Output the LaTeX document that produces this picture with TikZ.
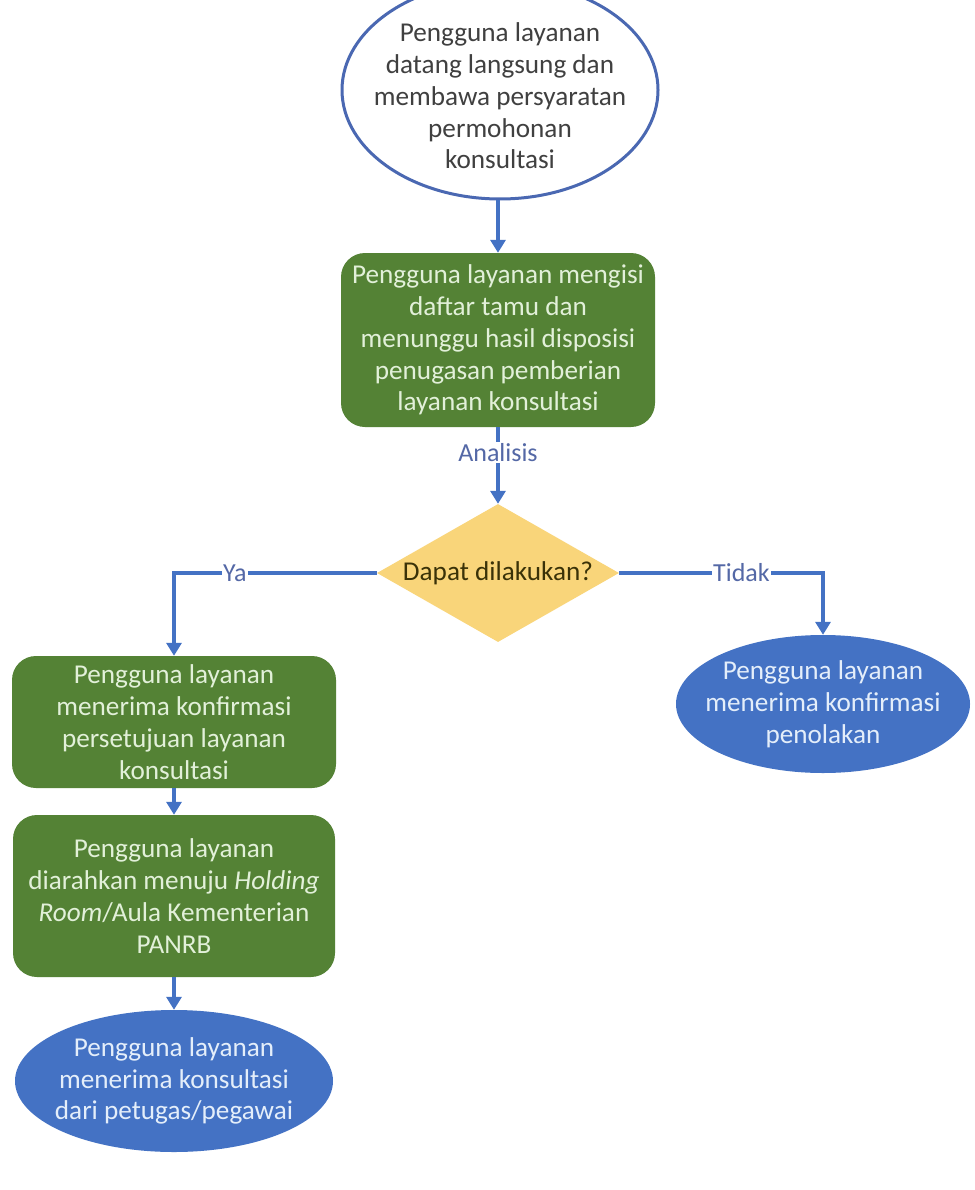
\documentclass[tikz,border=0pt]{standalone}
\usepackage{fontspec}
\setmainfont{Carlito}
\usetikzlibrary{shapes.geometric,arrows.meta}
\definecolor{lineblue}{HTML}{4472C4}
\definecolor{edgeblue}{HTML}{4A68B2}
\definecolor{boxgreen}{HTML}{548235}
\definecolor{greentext}{HTML}{E2F0D9}
\definecolor{diafill}{HTML}{F9D57A}
\definecolor{diatext}{HTML}{3A3208}
\definecolor{ovalblue}{HTML}{4472C4}
\definecolor{ovaltext}{HTML}{E4EEFA}
\definecolor{lbltext}{HTML}{5468A6}
\definecolor{darktext}{HTML}{404040}
\tikzset{
  txt/.style={font=\fontsize{27.2}{31.8}\selectfont, align=center, inner sep=0pt},
  startoval/.style={ellipse, draw=edgeblue, line width=3pt, fill=white, inner sep=0pt},
  greenbox/.style={txt, rectangle, rounded corners=24pt, fill=boxgreen, text=greentext},
  endoval/.style={ellipse, fill=ovalblue, inner sep=0pt},
  decision/.style={diamond, fill=diafill, inner sep=0pt},
  conn/.style={draw=lineblue, line width=3.2pt},
  arr/.style={conn, -{Triangle[length=13pt,width=15pt]}},
  lbl/.style={font=\fontsize{26}{30}\selectfont, text=lbltext, fill=white, inner sep=1.5pt}
}
\begin{document}
\begin{tikzpicture}[x=1pt,y=-1pt]
\useasboundingbox (0,0) rectangle (974,1190);
\fill[white] (0,0) rectangle (974,1190);

\node[startoval, minimum width=316pt, minimum height=218pt] (start) at (500,90) {};
\node[txt, text=darktext] (starttext) at (500,96)
  {Pengguna layanan\\datang langsung dan\\membawa persyaratan\\permohonan\\konsultasi};

\node[greenbox, minimum width=314pt, minimum height=174pt] (g1) at (498,340)
  {Pengguna layanan mengisi\\daftar tamu dan\\menunggu hasil disposisi\\penugasan pemberian\\layanan konsultasi};

\node[decision, minimum width=242pt, minimum height=138pt] (dec) at (498,573) {};
\node[txt, text=diatext] (dectext) at (dec) {Dapat dilakukan?};

\node[greenbox, minimum width=324pt, minimum height=132pt] (g2) at (174,722)
  {Pengguna layanan\\menerima konfirmasi\\persetujuan layanan\\konsultasi};

\node[greenbox, minimum width=322pt, minimum height=162pt] (g3) at (174,896)
  {Pengguna layanan\\diarahkan menuju \textit{Holding}\\\textit{Room}/Aula Kementerian\\PANRB};

\node[endoval, minimum width=318pt, minimum height=142pt] (e1) at (174,1081) {};
\node[txt, text=ovaltext] (e1text) at (e1)
  {Pengguna layanan\\menerima konsultasi\\dari petugas/pegawai};

\node[endoval, minimum width=294pt, minimum height=138pt] (e2) at (823,704) {};
\node[txt, text=ovaltext] (e2text) at (e2)
  {Pengguna layanan\\menerima konfirmasi\\penolakan};

\coordinate (sbot) at (start.south -| g1.north);
\draw[arr] (sbot) -- (g1.north);
\draw[arr] (g1.south) -- node[lbl, pos=0.33] {Analisis} (dec.north);
\draw[arr] (dec.west) -| node[lbl, pos=0.35] {Ya} (g2.north);
\draw[arr] (dec.east) -| node[lbl, pos=0.30] {Tidak} (e2.north);
\draw[arr] (g2.south) -- (g3.north);
\draw[arr] (g3.south) -- (e1.north);
\end{tikzpicture}
\end{document}
